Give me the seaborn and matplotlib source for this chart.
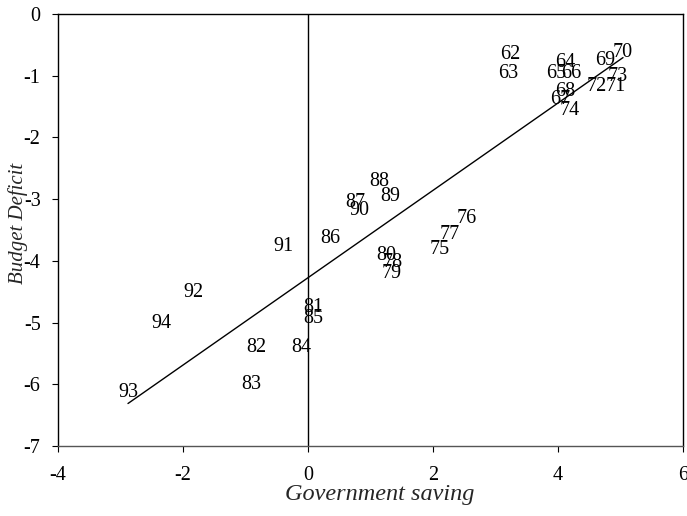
import pandas as pd
import matplotlib.pyplot as plt
import seaborn as sns

# Year labels and their (government saving, budget deficit) positions
years = ["62", "63", "64", "65", "66", "67", "68", "69", "70", "71", "72", "73", "74",
         "75", "76", "77", "78", "79", "80", "81", "82", "83", "84", "85", "86", "87",
         "88", "89", "90", "91", "92", "93", "94"]
gov_saving = [3.23, 3.20, 4.11, 3.97, 4.21, 4.03, 4.11, 4.75, 5.04, 4.93, 4.62, 4.96, 4.18,
              2.11, 2.54, 2.26, 1.36, 1.34, 1.25, 0.08, -0.83, -0.91, -0.10, 0.08, 0.35, 0.75,
              1.14, 1.31, 0.82, -0.40, -1.84, -2.88, -2.34]
budget_deficit = [-0.65, -0.96, -0.79, -0.96, -0.96, -1.39, -1.26, -0.76, -0.63, -1.18, -1.17, -1.01, -1.56,
                  -3.81, -3.31, -3.57, -4.02, -4.20, -3.92, -4.75, -5.40, -6.01, -5.41, -4.93, -3.63, -3.05,
                  -2.71, -2.95, -3.18, -3.76, -4.52, -6.13, -5.01]

df = pd.DataFrame({"year": years, "saving": gov_saving, "deficit": budget_deficit})

sns.set_style("white")
plt.rcParams["font.family"] = ["Liberation Serif", "DejaVu Serif"]
plt.rcParams["axes.unicode_minus"] = False

fig, ax = plt.subplots(figsize=(6.87, 5.16), dpi=100)
fig.subplots_adjust(left=0.0844, right=0.9942, top=0.9729, bottom=0.1357)

# Regression line over the data range
sns.regplot(data=df, x="saving", y="deficit", scatter=False, ci=None, truncate=True,
            color="black", line_kws={"lw": 1}, ax=ax)

# Year labels instead of markers
for _, row in df.iterrows():
    ax.text(row["saving"], row["deficit"], row["year"], ha="center", va="center",
            fontsize=14.5, color="black")

ax.axvline(0, color="black", lw=1)

ax.set_xlim(-4, 6)
ax.set_ylim(-7, 0)
ax.set_xticks([-4, -2, 0, 2, 4, 6])
ax.set_yticks([0, -1, -2, -3, -4, -5, -6, -7])
ax.tick_params(axis="both", labelsize=14.5, colors="black", direction="out", length=4.5)
ax.tick_params(axis="y", left=True, pad=8)
ax.tick_params(axis="x", bottom=True, pad=10)
for s in ax.spines.values():
    s.set_color("black")
    s.set_linewidth(1)
ax.spines["bottom"].set_color("#555555")

ax.set_xlabel("Government saving", fontsize=17.5, style="italic")
ax.xaxis.set_label_coords(0.514, -0.089)
ax.set_ylabel("Budget Deficit", fontsize=15, style="italic")
ax.yaxis.set_label_coords(-0.048, 0.516)

plt.savefig("out.png", dpi=100)
